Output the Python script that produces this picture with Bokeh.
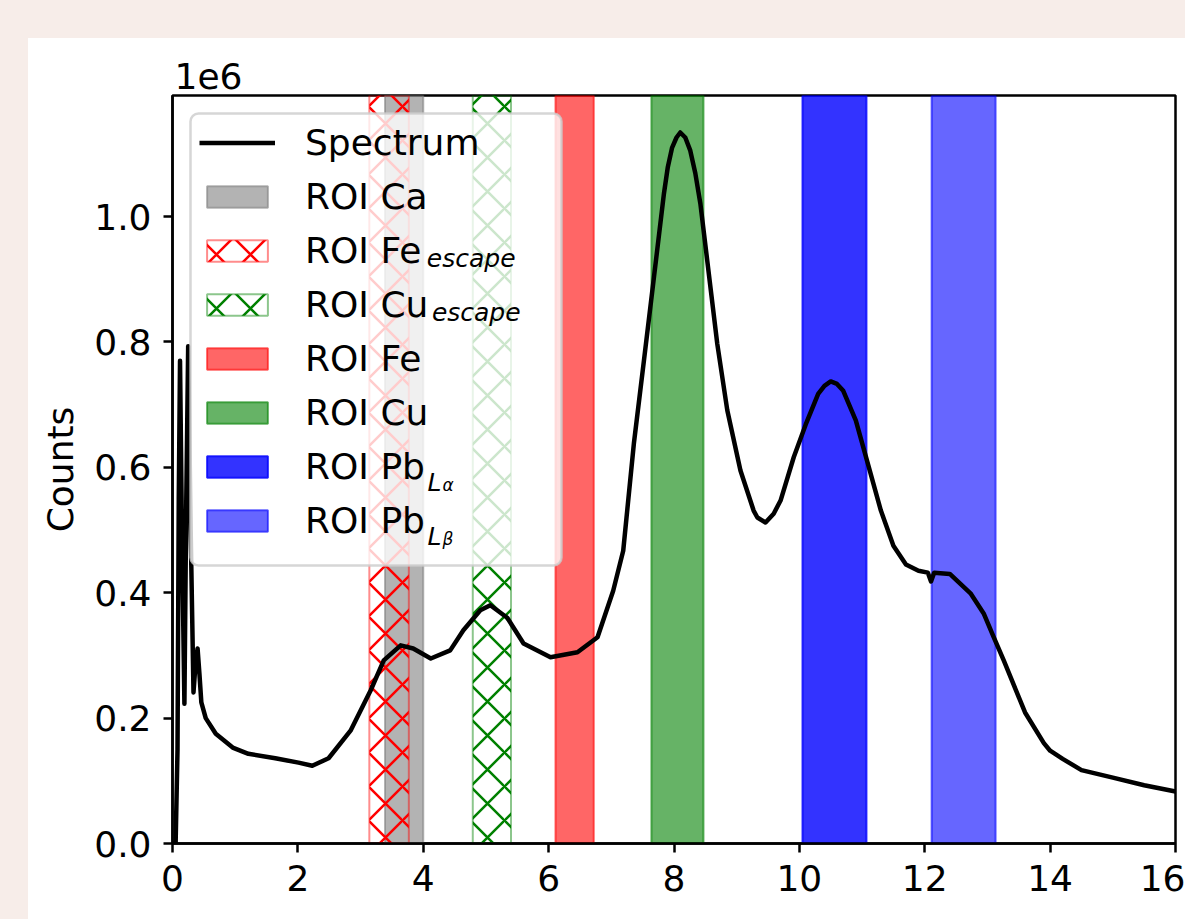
from bokeh.plotting import figure
from bokeh.models import (Range1d, FixedTicker, CustomJSTickFormatter, Legend,
                          LegendItem, Label, Spacer)
from bokeh.layouts import row, column
from bokeh.embed import file_html
from bokeh.resources import INLINE

# ---------------- data ----------------
ENERGY = [0.00, 0.05, 0.08, 0.10, 0.12, 0.15, 0.19, 0.22, 0.25, 0.29, 0.335, 0.37,
          0.40, 0.43, 0.46, 0.53, 0.69, 0.96, 1.21, 1.64, 2.01, 2.23, 2.49, 2.84,
          3.16, 3.37, 3.64, 3.84, 4.12, 4.43, 4.64, 4.91, 5.07, 5.34, 5.60, 6.03,
          6.46, 6.78, 7.03, 7.19, 7.36, 7.52, 7.68, 7.84, 7.90, 7.97, 8.04, 8.10,
          8.18, 8.26, 8.34, 8.42, 8.53, 8.69, 8.85, 9.06, 9.27, 9.33, 9.46, 9.59,
          9.70, 9.91, 10.10, 10.30, 10.40, 10.50, 10.60, 10.70, 10.90, 11.10,
          11.30, 11.50, 11.70, 11.90, 12.05, 12.10, 12.15, 12.40, 12.73, 12.94,
          13.10, 13.26, 13.60, 13.90, 14.00, 14.20, 14.50, 15.00, 15.50, 16.00]
COUNTS = [0, 0, 150000, 550000, 770000, 500000, 223000, 550000, 793000, 500000,
          241000, 290000, 311000, 270000, 225000, 200000, 175000, 153000, 143000,
          136000, 129000, 124000, 136000, 180000, 244000, 292000, 316000, 311000,
          295000, 308000, 340000, 372000, 380000, 360000, 319000, 297000, 305000,
          329000, 403000, 467000, 638000, 770000, 903000, 1037000, 1078000,
          1110000, 1126000, 1134000, 1126000, 1105000, 1069000, 1021000, 930000,
          797000, 691000, 595000, 531000, 520000, 512000, 526000, 547000, 616000,
          668000, 717000, 730000, 737000, 733000, 722000, 675000, 603000, 531000,
          475000, 445000, 435000, 432000, 418000, 432000, 430000, 399000, 367000,
          329000, 292000, 209000, 160000, 148000, 135000, 117000, 105000, 93000,
          83000]

ROI_LABELS = ["ROI Ca", "ROI Fe", "ROI Cu", "ROI Fe", "ROI Cu", "ROI Pb", "ROI Pb"]
ROI_LO = [3.39, 3.14, 4.79, 6.11, 7.64, 10.05, 12.11]
ROI_HI = [4.00, 3.77, 5.40, 6.72, 8.47, 11.07, 13.13]

X_TICKS = [0, 2, 4, 6, 8, 10, 12, 14, 16]
Y_TICKS = [0, 200000, 400000, 600000, 800000, 1000000]
X_MAX = 16
Y_TOP = 1193000
X_LABEL = "Energy [keV]"

# ---------------- styles ----------------
ROI_FILL = ["gray", None, None, "red", "green", "blue", "blue"]
ROI_FILL_ALPHA = [0.6, 0.0, 0.0, 0.6, 0.6, 0.8, 0.6]
ROI_LINE = ["gray", "red", "green", "red", "green", "blue", "blue"]
ROI_LINE_ALPHA = [0.6, 0.45, 0.45, 0.6, 0.6, 0.8, 0.6]
ROI_HATCH = [None, "x", "x", None, None, None, None]

FONT = "DejaVu Sans"
FS = "36px"

LEFT_PAD, TOP_PAD = 28, 38
W, H = 1185 - LEFT_PAD, 919 - TOP_PAD
BL, BR, BT, BB = 144, 10, 57, 76
FW, FH = W - BL - BR, H - BT - BB

p = figure(width=W, height=H, x_range=Range1d(0, X_MAX), y_range=Range1d(0, Y_TOP),
           output_backend="svg", toolbar_location=None, title="1e6",
           min_border_left=BL, min_border_right=BR, min_border_top=BT,
           min_border_bottom=BB, border_fill_color="white",
           background_fill_color="white")
p.title.text_font = FONT
p.title.text_font_size = FS
p.title.text_font_style = "normal"
p.title.text_color = "black"
p.title.align = "left"
p.title.offset = 2
p.title.standoff = 14

p.grid.visible = False
p.outline_line_color = "black"
p.outline_line_width = 2.5
p.outline_line_alpha = 1.0

for ax in (p.xaxis[0], p.yaxis[0]):
    ax.major_tick_out = 9
    ax.major_tick_in = 0
    ax.minor_tick_out = 0
    ax.minor_tick_in = 0
    ax.major_tick_line_width = 2.5
    ax.axis_line_width = 2.5
    ax.major_label_text_font = FONT
    ax.major_label_text_font_size = FS
    ax.major_label_text_color = "black"
    ax.axis_label_text_font = FONT
    ax.axis_label_text_font_size = FS
    ax.axis_label_text_font_style = "normal"
    ax.axis_label_text_color = "black"

p.xaxis.ticker = FixedTicker(ticks=X_TICKS)
p.yaxis.ticker = FixedTicker(ticks=Y_TICKS)
p.yaxis.formatter = CustomJSTickFormatter(code="return (tick/1e6).toFixed(1);")
p.xaxis.major_label_standoff = 12
p.yaxis.major_label_standoff = 12
p.yaxis.axis_label = "Counts"
p.yaxis.axis_label_standoff = 10

roi_renderers = []
for i in range(len(ROI_LO)):
    kw = dict(line_color=ROI_LINE[i], line_alpha=ROI_LINE_ALPHA[i], line_width=2)
    if ROI_HATCH[i]:
        kw.update(fill_color=None, hatch_pattern=ROI_HATCH[i], hatch_color=ROI_LINE[i],
                  hatch_weight=2.5, hatch_scale=34, hatch_alpha=1.0)
    else:
        kw.update(fill_color=ROI_FILL[i], fill_alpha=ROI_FILL_ALPHA[i])
    r = p.quad(left=[ROI_LO[i]], right=[ROI_HI[i]], bottom=[0], top=[Y_TOP], **kw)
    roi_renderers.append(r)

spec = p.line(ENERGY, COUNTS, line_color="black", line_width=4.5, line_join="round")


# helpers: frame pixel -> data coordinates (text / legend-box placement only)
def fx(px):
    return px / FW * X_MAX


def fy(py):
    return Y_TOP * (1 - py / FH)


# semi-transparent legend frame (drawn as a glyph so that text sits above it)
MARGIN, PAD, GW, GH, STAND, SP, LH = 27, 7, 76, 27, 30, 13, 27
BOX_L, BOX_R, BOX_T, BOX_B = 18, 389, 18, 470
box_kw = dict(left=[fx(BOX_L)], right=[fx(BOX_R)], top=[fy(BOX_T)], bottom=[fy(BOX_B)],
              fill_color="white", fill_alpha=0.8, line_color="#cccccc",
              line_alpha=0.8, line_width=2.5)
try:
    p.quad(border_radius=8, **box_kw)
except Exception:
    p.quad(**box_kw)

items = [LegendItem(label="Spectrum", renderers=[spec])]
for lab, r in zip(ROI_LABELS, roi_renderers):
    items.append(LegendItem(label=lab, renderers=[r]))
leg = Legend(items=items, location="top_left", margin=MARGIN, padding=PAD,
             glyph_width=GW, glyph_height=GH, label_height=LH, label_standoff=STAND,
             spacing=SP, label_width=230,
             label_text_font=FONT, label_text_font_size=FS, label_text_color="black",
             background_fill_alpha=0.0, border_line_color=None)
p.add_layout(leg)

FIX = 8  # empirical shift of the alphabetic baseline of labels


def sub(text, px, py, size):
    p.add_layout(Label(x=fx(px), y=fy(py - FIX), text=text, text_font=FONT,
                       text_font_size=size, text_font_style="italic",
                       text_baseline="alphabetic", text_align="left",
                       text_color="black", level="overlay"))


# subscript anchors (frame pixels) for the legend texts
SUB_X0 = 134
SUB_C0 = 48.5
PITCH = 54
advance = {"ROI Fe": 118.3, "ROI Cu": 123.4, "ROI Pb": 120.0}
subs = {2: ("ROI Fe", "escape", None), 3: ("ROI Cu", "escape", None),
        6: ("ROI Pb", "L", "α"), 7: ("ROI Pb", "L", "β")}
for idx, (base, s1, s2) in subs.items():
    baseline = SUB_C0 + idx * PITCH + 13
    x0 = SUB_X0 + advance[base]
    if s2 is None:
        sub(s1, x0 + 2, baseline + 1.5, "25px")
    else:
        sub(s1, x0 + 1, baseline + 9, "25px")
        sub(s2, x0 + 16, baseline + 12, "17px")

# x axis title: sits at the page's bottom edge, cut off as in the reference
p.add_layout(Label(x=X_MAX / 2, y=0, y_offset=-83, text=X_LABEL,
                   text_font=FONT, text_font_size=FS, text_baseline="alphabetic",
                   text_align="center", text_color="black", level="overlay"))

BG = "#f7ede9"
left_pad = Spacer(width=LEFT_PAD, height=TOP_PAD + H, styles={"background-color": BG})
top_pad = Spacer(width=W, height=TOP_PAD, styles={"background-color": BG})
layout = row(left_pad, column(top_pad, p))

open("out.html", "w").write(file_html(layout, INLINE))
